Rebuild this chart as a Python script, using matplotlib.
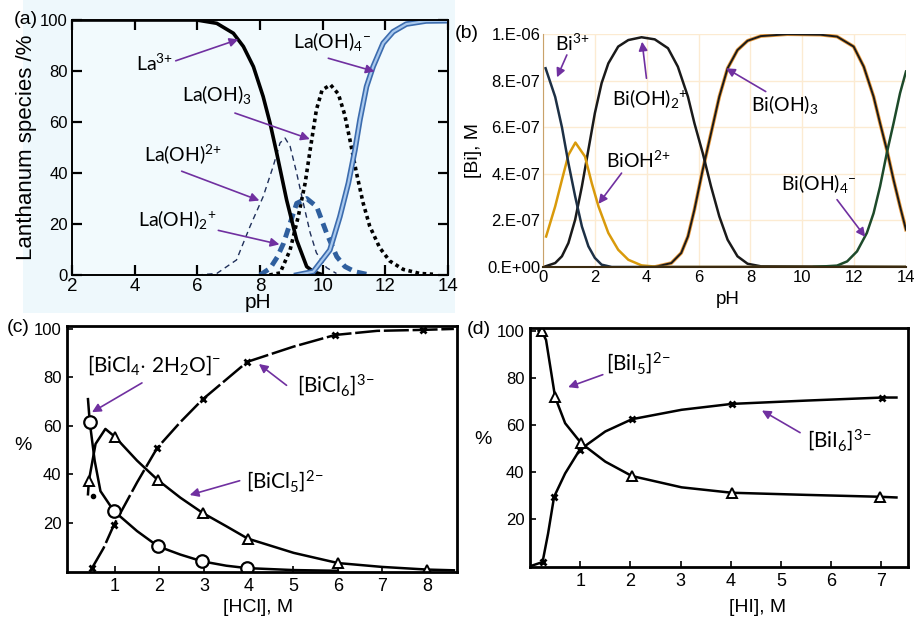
import matplotlib
matplotlib.use('Agg')
from matplotlib import pyplot as plt
from matplotlib.patches import Rectangle

plt.rcParams['font.family'] = ['Liberation Sans', 'DejaVu Sans']
plt.rcParams['mathtext.fontset'] = 'custom'
plt.rcParams['mathtext.rm'] = 'Lato'
plt.rcParams['mathtext.it'] = 'Lato:italic'
plt.rcParams['mathtext.bf'] = 'Lato:bold'

# ---------- (a) La speciation vs pH ----------
la3_ph = [2, 4, 5.98, 6.62, 7.15, 7.47, 7.79, 8.1, 8.32, 8.53, 8.85, 9.17, 9.49, 9.7, 9.95]
la3_pct = [100, 100, 100, 98.7, 94.8, 89.6, 81.7, 70, 59.6, 48, 29.4, 13.7, 3.3, 1.3, 0.3]

laoh2_ph = [6.0, 6.62, 7.25, 7.68, 8.1, 8.42, 8.64, 8.8, 8.96, 9.17, 9.38, 9.6, 9.8, 10.12, 10.44]
laoh2_pct = [0, 0.6, 5.9, 19, 30.7, 42.6, 51.8, 53.7, 50.5, 40, 28.3, 16.6, 8.7, 2.9, 0.6]

laoh2b_ph = [8.0, 8.32, 8.55, 8.75, 8.96, 9.17, 9.49, 9.81, 10.13, 10.45, 10.71, 11.03, 11.4]
laoh2b_pct = [0, 2.6, 7, 12.4, 20.3, 28.1, 30, 26.8, 16.3, 7.2, 3.3, 1.3, 0.3]

laoh3_ph = [8.3, 8.64, 8.96, 9.22, 9.44, 9.6, 9.8, 9.98, 10.25, 10.5, 10.7, 10.87, 11.08,
            11.29, 11.5, 11.82, 12.14, 12.57, 13.1, 13.52]
laoh3_pct = [0, 0.8, 9.8, 22.9, 36, 49, 64.8, 72.5, 74.6, 71, 63, 53, 40,
             28.3, 19.2, 10.7, 5.5, 2.2, 0.6, 0.3]

laoh4_ph = [9.17, 9.7, 10.23, 10.55, 10.82, 11.03, 11.19, 11.4, 11.61, 11.93, 12.25, 12.67, 13.3, 14]
laoh4_pct = [0, 1.3, 9.8, 22.9, 36, 49, 60.9, 73.9, 81.7, 90.9, 95.4, 98.4, 99.6, 99.7]

# ---------- (b) Bi speciation vs pH ----------
bi3_ph = [0.1, 0.47, 0.73, 0.98, 1.24, 1.5, 1.75, 2.0, 2.26, 2.65, 14]
bi3_c = [8.53, 7.3, 6.0, 4.46, 3.03, 1.74, 0.89, 0.39, 0.1, 0, 0]

bioh_ph = [0.12, 0.47, 0.73, 0.98, 1.25, 1.62, 1.88, 2.14, 2.52, 2.9, 3.29, 3.8, 4.5, 14]
bioh_c = [1.31, 2.6, 3.74, 4.81, 5.34, 4.74, 3.6, 2.6, 1.46, 0.74, 0.31, 0.07, 0, 0]

bioh2_ph = [0.1, 0.47, 0.73, 0.98, 1.24, 1.5, 1.75, 2.0, 2.26, 2.52, 2.9, 3.29, 3.8, 4.31,
            4.82, 5.2, 5.59, 5.84, 6.16, 6.48, 6.8, 7.12, 7.5, 7.89, 8.4, 14]
bioh2_c = [0.03, 0.17, 0.46, 1.03, 2.03, 3.46, 5.03, 6.6, 7.89, 8.74, 9.46, 9.74, 9.86, 9.77,
           9.39, 8.6, 7.31, 6.17, 4.89, 3.46, 2.17, 1.17, 0.46, 0.14, 0.03, 0]

bioh3_ph = [4.3, 4.95, 5.33, 5.59, 5.84, 6.16, 6.48, 6.8, 7.12, 7.5, 7.89, 8.4, 9.42, 10.7,
            11.34, 11.98, 12.37, 12.75, 13.0, 13.26, 13.52, 13.77, 14]
bioh3_c = [0, 0.17, 0.6, 1.31, 2.46, 4.17, 5.74, 7.31, 8.53, 9.31, 9.71, 9.91, 9.99, 9.97,
           9.89, 9.46, 8.6, 7.31, 6.17, 5.03, 3.74, 2.6, 1.6]

bioh4_ph = [10.45, 11.34, 11.73, 12.11, 12.49, 12.75, 13.0, 13.26, 13.52, 13.77, 14]
bioh4_c = [0, 0.06, 0.24, 0.67, 1.46, 2.31, 3.46, 4.89, 6.17, 7.46, 8.39]

bi_yticks = [0, 2e-7, 4e-7, 6e-7, 8e-7, 1e-6]
bi_yticklabels = ['0.E+00', '2.E-07', '4.E-07', '6.E-07', '8.E-07', '1.E-06']

# ---------- (c) Bi chloride complexes vs [HCl] ----------
bicl6_x = [0.49, 0.98, 1.95, 2.97, 3.97, 5.94, 7.91]
bicl6_y = [1.2, 19, 50.8, 70.9, 86.4, 97.5, 99.6]
bicl6_line_x = [0.49, 0.75, 0.98, 1.5, 1.95, 2.47, 2.97, 3.48, 3.97, 5.01, 5.94, 6.88, 7.91, 8.6]
bicl6_line_y = [1.2, 9.5, 19, 36.6, 50.8, 61.5, 70.9, 78.8, 86.4, 92.7, 97.5, 99.2, 99.6, 100]

bicl5_x = [0.42, 1.0, 1.97, 2.97, 3.98, 6.0, 8.0]
bicl5_y = [37.3, 55.5, 37.5, 24, 13.4, 3.3, 0.6]
bicl5_line_x = [0.4, 0.42, 0.57, 0.79, 1.0, 1.5, 1.97, 2.47, 2.97, 3.5, 3.98, 5.01, 6.0, 6.99, 8.0, 8.6]
bicl5_line_y = [31.7, 37.3, 52.5, 58.7, 55.5, 45.6, 37.5, 30.3, 24, 18.5, 13.4, 7.5, 3.3, 1.7, 0.6, 0.3]

bicl4_x = [0.44, 0.98, 1.97, 2.96, 3.97]
bicl4_y = [61.5, 24.8, 10.2, 4.0, 1.2]
bicl4_line_x = [0.4, 0.44, 0.55, 0.68, 0.98, 1.5, 1.97, 2.47, 2.96, 3.5, 3.97, 5.0, 6.0]
bicl4_line_y = [71, 61.5, 45.6, 33, 24.8, 16.5, 10.2, 6.8, 4.0, 2.2, 1.2, 0.4, 0.1]

hcl_ticks = [1, 2, 3, 4, 5, 6, 7, 8]
pct_ticks = [20, 40, 60, 80, 100]

# ---------- (d) Bi iodide complexes vs [HI] ----------
bii6_x = [0.25, 0.48, 0.99, 2.03, 4.02, 7.02]
bii6_y = [1.8, 29.5, 49.4, 62.4, 68.9, 71.6]
bii6_line_x = [0.0, 0.25, 0.36, 0.48, 0.7, 0.99, 1.5, 2.03, 3.02, 4.02, 5.5, 7.02, 7.3]
bii6_line_y = [0, 1.8, 13.9, 29.5, 39.4, 49.4, 57.2, 62.4, 66.4, 68.9, 70.3, 71.6, 71.6]

bii5_x = [0.23, 0.5, 1.02, 2.03, 4.02, 6.97]
bii5_y = [100, 71.8, 52.2, 38.3, 31.2, 29.5]
bii5_line_x = [0.17, 0.23, 0.32, 0.5, 0.7, 1.02, 1.5, 2.03, 3.02, 4.02, 5.5, 6.97, 7.3]
bii5_line_y = [100, 100, 96, 71.8, 60.7, 52.2, 44.4, 38.3, 33.5, 31.2, 30.3, 29.5, 29.2]

hi_ticks = [1, 2, 3, 4, 5, 6, 7]

ARROW = '#7030a0'
W, H = 915, 618


def arrow(ax, tail, head):
    ax.annotate('', xy=head, xytext=tail,
                arrowprops=dict(arrowstyle='-|>', color=ARROW, lw=1.2, mutation_scale=13,
                                shrinkA=0, shrinkB=0))


def label(ax, x, y, s, size=14):
    ax.text(x, y, s, fontsize=size, family='Lato', ha='left', va='center')


def box(l, t, r, b):
    return [l / W, 1 - b / H, (r - l) / W, (b - t) / H]


fig = plt.figure(figsize=(9.15, 6.18), dpi=100)
fig.patches.append(Rectangle((23 / W, 1 - 313 / H), 432 / W, 313 / H, transform=fig.transFigure,
                             facecolor='#eef8fc', edgecolor='none', zorder=-10))

# ----- panel (a) -----
ax = fig.add_axes(box(72, 20, 448, 275))
ax.set_facecolor('#f2fafd')
ax.plot(laoh2_ph, laoh2_pct, color='#1f2f5a', lw=1.0, dashes=(4, 3))
ax.plot(laoh3_ph, laoh3_pct, color='black', lw=2.6, dashes=(1, 1))
ax.plot(laoh2b_ph, laoh2b_pct, color='#2f5f9e', lw=3.5, dashes=(2, 1.2))
ax.plot(la3_ph, la3_pct, color='black', lw=2.6)
ax.plot(laoh4_ph, laoh4_pct, color='#3c6cae', lw=4)
ax.plot(laoh4_ph, laoh4_pct, color='#a9c9ee', lw=1.6)
ax.set_xlim(2, 14)
ax.set_ylim(0, 100)
ax.set_xticks(range(2, 15, 2))
ax.set_yticks(range(0, 101, 20))
ax.tick_params(direction='in', length=7, width=1.6, labelsize=12, top=True, right=True, pad=3)
ax.tick_params(axis='x', labelsize=13.5, pad=2)
for s in ax.spines.values():
    s.set_linewidth(1.4)
ax.set_ylabel('Lanthanum species /%', fontsize=16, labelpad=2)
label(ax, 4.05, 83, 'La$^{\\mathregular{3{+}}}$')
arrow(ax, (5.31, 84), (7.31, 92.4))
label(ax, 9.06, 91.5, 'La(OH)$_{\\mathregular{4}}$$^{\\mathregular{{-}}}$')
arrow(ax, (10.18, 85), (11.66, 79.8))
label(ax, 5.5, 70.7, 'La(OH)$_{\\mathregular{3}}$')
arrow(ax, (7.2, 63.5), (9.59, 53.3))
label(ax, 4.3, 47.6, 'La(OH)$^{\\mathregular{2{+}}}$')
arrow(ax, (5.5, 40.7), (7.98, 29.2))
label(ax, 4.12, 21.8, 'La(OH)$_{\\mathregular{2}}$$^{\\mathregular{{+}}}$')
arrow(ax, (6.67, 17.5), (8.62, 12))
fig.text(258 / W, 1 - 303 / H, 'pH', fontsize=15, ha='center', va='center')
fig.text(14 / W, 1 - 20 / H, '(a)', fontsize=14, ha='left', va='center')

# ----- panel (b) -----
ax = fig.add_axes(box(543, 34, 906, 267))
ax.plot(bioh3_ph, [v * 1e-7 for v in bioh3_c], color='#e89a3c', lw=2.6)
ax.plot(bioh3_ph, [v * 1e-7 for v in bioh3_c], color='#1a1a1a', lw=1.4)
ax.plot(bioh2_ph, [v * 1e-7 for v in bioh2_c], color='#1a1a1a', lw=1.8)
ax.plot(bioh_ph, [v * 1e-7 for v in bioh_c], color='#d99a0b', lw=1.8)
ax.plot(bi3_ph, [v * 1e-7 for v in bi3_c], color='#1d3045', lw=1.8)
ax.plot(bioh4_ph, [v * 1e-7 for v in bioh4_c], color='#1d4a2a', lw=1.8)
ax.set_xlim(0, 14)
ax.set_ylim(0, 1e-6)
ax.set_xticks(range(0, 15, 2))
ax.set_yticks(bi_yticks)
ax.set_yticklabels(bi_yticklabels)
ax.grid(color='#fcebd2', lw=1)
ax.set_axisbelow(True)
ax.tick_params(length=0, labelsize=12, pad=2)
ax.spines['top'].set_visible(False)
ax.spines['right'].set_visible(False)
ax.spines['left'].set_color('#c9a26a')
ax.spines['bottom'].set_color('#3a2a10')
ax.spines['bottom'].set_linewidth(1.5)
ax.set_ylabel('[Bi], M', fontsize=14, labelpad=4)
label(ax, 0.47, 9.6e-7, 'Bi$^{\\mathregular{3{+}}}$')
arrow(ax, (0.92, 9.1e-7), (0.54, 8.14e-7))
label(ax, 2.65, 7.24e-7, 'Bi(OH)$_{\\mathregular{2}}$$^{\\mathregular{{+}}}$')
arrow(ax, (3.99, 8.1e-7), (3.82, 9.67e-7))
label(ax, 8.02, 6.96e-7, 'Bi(OH)$_{\\mathregular{3}}$')
arrow(ax, (8.59, 7.53e-7), (7.06, 8.53e-7))
label(ax, 2.42, 4.57e-7, 'BiOH$^{\\mathregular{2{+}}}$')
arrow(ax, (3.03, 4.03e-7), (2.14, 2.71e-7))
label(ax, 9.19, 3.57e-7, 'Bi(OH)$_{\\mathregular{4}}$$^{\\mathregular{{-}}}$')
arrow(ax, (11.34, 2.89e-7), (12.43, 1.29e-7))
fig.text(728 / W, 1 - 300 / H, 'pH', fontsize=13.5, ha='center', va='center')
fig.text(455 / W, 1 - 33 / H, '(b)', fontsize=14, ha='left', va='center')

# ----- panel (c) -----
ax = fig.add_axes(box(67, 326, 457, 572))
ax.plot(bicl6_line_x, bicl6_line_y, color='black', lw=1.8, dashes=(10, 1.5))
ax.plot(bicl5_line_x, bicl5_line_y, color='black', lw=1.8)
ax.plot(bicl4_line_x, bicl4_line_y, color='black', lw=1.8)
ax.plot(bicl6_x, bicl6_y, 'x', color='black', ms=5, mew=2, ls='none')
ax.plot(bicl5_x, bicl5_y, '^', color='black', mfc='white', ms=7, mew=1.4, ls='none')
ax.plot(bicl4_x, bicl4_y, 'o', color='black', mfc='white', ms=9, mew=1.6, ls='none')
ax.plot([0.52], [31], 'o', color='black', ms=3)
ax.set_xlim(-0.07, 8.67)
ax.set_ylim(-0.4, 101.2)
ax.set_xticks(hcl_ticks)
ax.set_yticks(pct_ticks)
ax.tick_params(direction='in', length=4, width=1.2, labelsize=12, pad=4)
ax.tick_params(axis='x', labelsize=13)
for s in ax.spines.values():
    s.set_linewidth(2)
label(ax, 0.37, 85, '[BiCl$_{\\mathregular{4}}$$\\mathregular{\\cdot}$ 2H$_{\\mathregular{2}}$O]$^{\\mathregular{{-}}}$', 15)
arrow(ax, (1.61, 77.7), (0.49, 65.6))
label(ax, 5.09, 76.7, '[BiCl$_{\\mathregular{6}}$]$^{\\mathregular{3{-}}}$', 15)
arrow(ax, (4.85, 76.7), (4.23, 85.5))
label(ax, 3.95, 37.3, '[BiCl$_{\\mathregular{5}}$]$^{\\mathregular{2{-}}}$', 15)
arrow(ax, (3.8, 37.3), (2.68, 31.4))
fig.text(23 / W, 1 - 445 / H, '%', fontsize=14, ha='center', va='center')
fig.text(258 / W, 1 - 608 / H, '[HCl], M', fontsize=14, ha='center', va='center')
fig.text(7 / W, 1 - 328 / H, '(c)', fontsize=14, ha='left', va='center')

# ----- panel (d) -----
ax = fig.add_axes(box(530, 328, 908, 567))
ax.plot(bii6_line_x, bii6_line_y, color='black', lw=1.8)
ax.plot(bii5_line_x, bii5_line_y, color='black', lw=1.8)
ax.plot(bii6_x, bii6_y, 'x', color='black', ms=5, mew=2, ls='none')
ax.plot(bii5_x, bii5_y, '^', color='black', mfc='white', ms=7, mew=1.4, ls='none')
ax.set_xlim(0, 7.53)
ax.set_ylim(-0.3, 101.1)
ax.set_xticks(hi_ticks)
ax.set_yticks(pct_ticks)
ax.tick_params(direction='in', length=4, width=1.2, labelsize=12, pad=4)
ax.tick_params(axis='x', labelsize=13)
for s in ax.spines.values():
    s.set_linewidth(2)
label(ax, 1.51, 86.2, '[BiI$_{\\mathregular{5}}$]$^{\\mathregular{2{-}}}$', 15)
arrow(ax, (1.45, 81.3), (0.76, 76))
label(ax, 5.51, 53.6, '[BiI$_{\\mathregular{6}}$]$^{\\mathregular{3{-}}}$', 15)
arrow(ax, (5.38, 56.7), (4.62, 66.1))
fig.text(483 / W, 1 - 440 / H, '%', fontsize=14, ha='center', va='center')
fig.text(758 / W, 1 - 608 / H, '[HI], M', fontsize=14, ha='center', va='center')
fig.text(467 / W, 1 - 330 / H, '(d)', fontsize=14, ha='left', va='center')

fig.savefig('out.png', dpi=100)
